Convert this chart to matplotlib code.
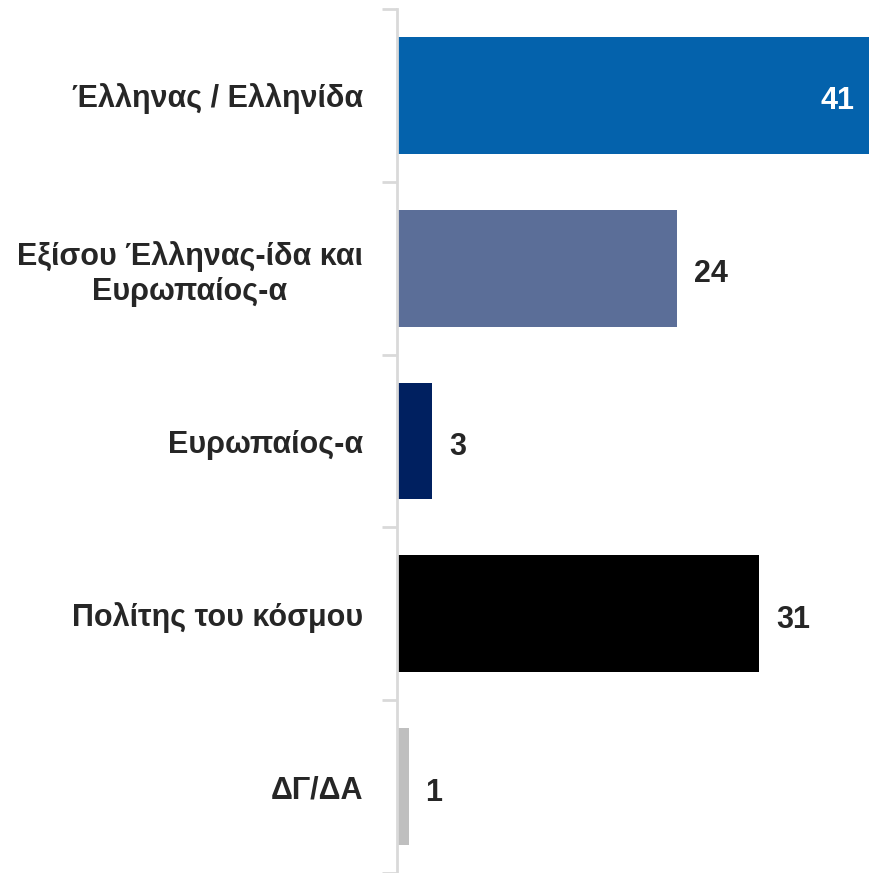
import matplotlib.pyplot as plt

categories = ["Έλληνας / Ελληνίδα", "Εξίσου Έλληνας-ίδα και\nΕυρωπαίος-α",
              "Ευρωπαίος-α", "Πολίτης του κόσμου", "ΔΓ/ΔΑ"]
values = [41, 24, 3, 31, 1]
colors = ["#0462AC", "#5B6E98", "#002060", "#000000", "#BFBFBF"]

plt.rcParams["font.family"] = ["Liberation Sans", "DejaVu Sans"]
text_color = "#262626"

fig = plt.figure(figsize=(8.69, 8.73), dpi=100)
ax = fig.add_axes([397 / 869, 0, 1 - 397 / 869, 1 - 9 / 873])

y = list(range(len(values)))
ax.barh(y, values, height=0.676, color=colors, zorder=2)
ax.set_ylim(len(values) - 0.5, -0.5)
ax.set_xlim(0, 40.4)

for i, v in enumerate(values):
    if v > 38:
        # bar runs off the edge, label sits inside
        ax.text(v - 1.8, i + 0.03, str(v), ha="right", va="center",
                fontsize=22, fontweight="bold", color="white")
    else:
        ax.text(v + 1.45, i + 0.035, str(v), ha="left", va="center",
                fontsize=22, fontweight="bold", color=text_color)

ax.set_yticks([i - 0.5 for i in range(len(values) + 1)], minor=False)
ax.set_yticklabels([])
ax.set_yticks(y, minor=True)
ax.set_yticklabels(categories, minor=True, fontsize=22, fontweight="bold",
                   ha="right", multialignment="center", color=text_color)
ax.tick_params(axis="y", which="major", length=11, width=2, color="#D9D9D9")
ax.tick_params(axis="y", which="minor", length=0, pad=24.5)
ax.set_xticks([])

for s in ["top", "right", "bottom"]:
    ax.spines[s].set_visible(False)
ax.spines["left"].set_color("#D9D9D9")
ax.spines["left"].set_linewidth(2)

fig.savefig("out.png", dpi=100)
